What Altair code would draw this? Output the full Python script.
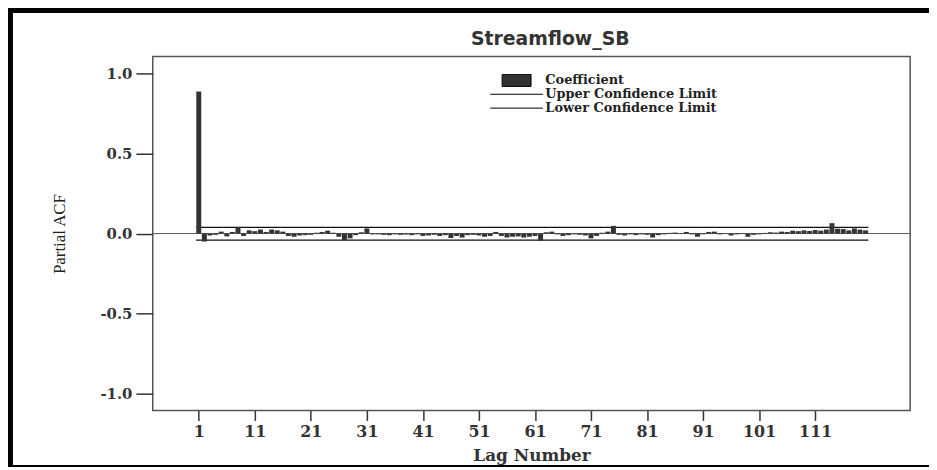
import altair as alt
import pandas as pd

# ---- data ----
lags = list(range(1, 121))
pacf = [
    0.89, -0.05, -0.012, -0.008, 0.012, -0.018, 0.01, 0.042, -0.015, 0.02,
    0.015, 0.025, 0.01, 0.025, 0.02, 0.012, -0.015, -0.02, -0.012, -0.01,
    -0.008, 0.005, 0.01, 0.018, 0.005, -0.02, -0.04, -0.03, -0.01, 0.008,
    0.032, -0.005, -0.005, -0.008, -0.01, -0.005, -0.008, -0.006, -0.01, -0.005,
    -0.015, -0.012, -0.008, -0.015, -0.01, -0.028, -0.015, -0.025, -0.01, -0.008,
    -0.012, -0.02, -0.015, 0.01, -0.015, -0.025, -0.02, -0.018, -0.025, -0.02,
    -0.015, -0.045, 0.008, 0.012, -0.005, -0.015, -0.01, -0.005, -0.008, -0.012,
    -0.03, -0.015, 0.005, 0.012, 0.048, -0.008, -0.012, -0.005, -0.01, -0.005,
    -0.008, -0.025, -0.01, -0.005, 0.004, 0.006, -0.003, 0.01, -0.005, -0.02,
    -0.005, 0.01, 0.012, -0.005, -0.003, -0.012, -0.005, -0.003, -0.02, -0.008,
    -0.005, 0.004, 0.008, 0.006, 0.012, 0.01, 0.018, 0.015, 0.02, 0.016,
    0.022, 0.018, 0.025, 0.065, 0.03, 0.028, 0.02, 0.032, 0.025, 0.02,
]
conf_upper = 0.039
conf_lower = -0.041
legend_labels = ["Coefficient", "Upper Confidence Limit", "Lower Confidence Limit"]
x_ticks = [1, 11, 21, 31, 41, 51, 61, 71, 81, 91, 101, 111]
y_ticks = [-1.0, -0.5, 0.0, 0.5, 1.0]
chart_title = "Streamflow_SB"
x_title = "Lag Number"
y_title = "Partial ACF"

df = pd.DataFrame({"lag": lags, "pacf": pacf, "series": legend_labels[0]})
limits = pd.DataFrame({
    "x": [lags[0] - 0.5, lags[0] - 0.5],
    "x2": [lags[-1] + 0.5, lags[-1] + 0.5],
    "y": [conf_upper, conf_lower],
    "series": legend_labels[1:],
})
zero_df = pd.DataFrame({"y": [0.0]})
deco = pd.DataFrame({"k": [0]})

x_scale = alt.Scale(domain=[-6.33, 127.07], nice=False, zero=False)
y_scale = alt.Scale(domain=[-1.108, 1.108], nice=False, zero=False)

serif_b = "DejaVu Serif"

x_axis = alt.Axis(
    values=x_ticks, title=x_title, grid=False, domain=False,
    tickSize=10, tickWidth=1.5, tickColor="#333333",
    labelFont=serif_b, labelFontWeight="bold", labelFontSize=16, labelColor="#333333",
    labelPadding=3,
    titleFont=serif_b, titleFontWeight="bold", titleFontSize=17, titleColor="#333333",
    titleY=45, titleBaseline="middle",
)
y_axis = alt.Axis(
    values=y_ticks, title=y_title, grid=False, domain=False,
    tickSize=17, tickWidth=1.5, tickColor="#333333",
    labelFont=serif_b, labelFontWeight="bold", labelFontSize=15, labelColor="#333333",
    labelPadding=4,
    labelExpr="replace(format(datum.value, '.1f'), '\u2212', '-')",
    titleFont="Liberation Serif", titleFontWeight="normal", titleFontSize=17,
    titleColor="#222222", titleAngle=270, titleX=-94, titleY=178.5,
    titleAlign="center", titleBaseline="middle",
)

legend = alt.Legend(
    title=None, orient="none", legendX=340, legendY=17.5, padding=0,
    symbolSize=2809, clipHeight=13, rowPadding=0, labelOffset=2, symbolOffset=0,
    labelFont=serif_b, labelFontWeight="bold", labelFontSize=13, labelColor="#222222",
    labelLimit=400,
    symbolType={"expr": "datum.value === 'Coefficient' ? 'M-0.55,-0.23H0.55V0.23H-0.55Z' : 'M-1,0H1'"},
    symbolStrokeColor="#000000",
    symbolStrokeWidth=1,
)

bars = alt.Chart(df).mark_bar(size=5).encode(
    x=alt.X("lag:Q", scale=x_scale, axis=x_axis),
    y=alt.Y("pacf:Q", scale=y_scale, axis=y_axis),
    color=alt.Color(
        "series:N",
        scale=alt.Scale(domain=legend_labels, range=["#333333", "#000000", "#000000"]),
        legend=legend,
    ),
)

zero_line = alt.Chart(zero_df).mark_rule(color="#555555", strokeWidth=1).encode(
    y=alt.Y("y:Q", scale=y_scale)
)

conf = alt.Chart(limits).mark_rule(color="#111111", strokeWidth=1.2).encode(
    x=alt.X("x:Q", scale=x_scale),
    x2="x2:Q",
    y=alt.Y("y:Q", scale=y_scale),
)

border_left = alt.Chart(deco).mark_rule(color="black", strokeWidth=7).encode(
    x=alt.value(-144.5), y=alt.value(-50), y2=alt.value(414)
)
border_top = alt.Chart(deco).mark_rule(color="black", strokeWidth=6).encode(
    x=alt.value(-148), x2=alt.value(790), y=alt.value(-47)
)
border_bottom = alt.Chart(deco).mark_rule(color="black", strokeWidth=2).encode(
    x=alt.value(-148), x2=alt.value(790), y=alt.value(413)
)

chart = alt.layer(
    zero_line, conf, bars, border_left, border_top, border_bottom
).properties(
    width=764,
    height=357,
    background="white",
    autosize=alt.AutoSizeParams(type="none"),
    padding={"left": 146, "top": 47, "right": 19, "bottom": 58},
    title=alt.TitleParams(
        chart_title, font="DejaVu Sans", fontWeight="bold", fontSize=19,
        color="#333333", dx=19, dy=68, offset=7, anchor="middle", baseline="alphabetic",
    ),
).configure_view(
    stroke="#555555", strokeWidth=1.5
)

chart.save("out.html", embed_options={"renderer": "svg", "actions": False})
